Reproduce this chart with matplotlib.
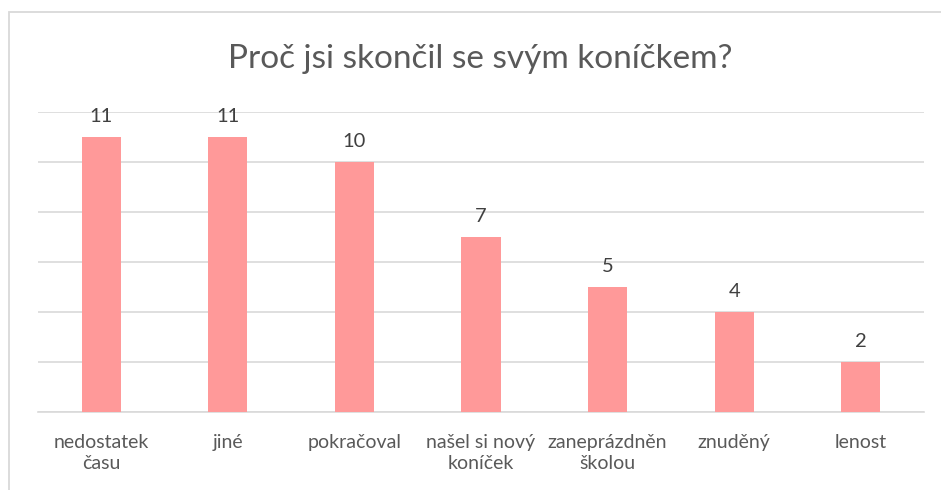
import matplotlib
matplotlib.use("Agg")
import matplotlib.pyplot as plt
from matplotlib.patches import Rectangle

categories = ["nedostatek\nčasu", "jiné", "pokračoval", "našel si nový\nkoníček",
              "zaneprázdněn\nškolou", "znuděný", "lenost"]
values = [11, 11, 10, 7, 5, 4, 2]
title = "Proč jsi skončil se svým koníčkem?"

plt.rcParams['font.family'] = ['Lato', 'DejaVu Sans']
W, H = 941, 490
fig = plt.figure(figsize=(W/100, H/100), dpi=100)

# outer chart border
fig.patches.append(Rectangle((9/W, -0.1), 1.2, (H-12)/H + 0.1, transform=fig.transFigure,
                             fill=False, edgecolor="#D9D9D9", linewidth=1.3))

ax = fig.add_axes([38/W, 78/H, (924-38)/W, 300/H])
x = list(range(len(categories)))
bars = ax.bar(x, values, width=0.31, color="#FF9999", zorder=3)
ax.set_xlim(-0.5, len(categories)-0.5)
ax.set_ylim(0, 12)
ax.set_yticks(range(0, 13, 2))
ax.yaxis.grid(True, color="#D9D9D9", linewidth=1.2, zorder=0)
ax.tick_params(axis='y', left=False, labelleft=False)
ax.tick_params(axis='x', bottom=False, pad=12)
ax.set_xticks(x)
ax.set_xticklabels(categories, fontsize=14, color="#595959", linespacing=1.35, va='top')
for s in ["top", "right", "left"]:
    ax.spines[s].set_visible(False)
ax.spines["bottom"].set_color("#D9D9D9")
ax.spines["bottom"].set_linewidth(1.2)

for xi, v in zip(x, values):
    ax.annotate(str(v), (xi, v), xytext=(0, 9), textcoords="offset points",
                ha="center", va="bottom", fontsize=14.5, color="#404040")

fig.text(480/W, 1 - 59/H, title, ha="center", va="center", fontsize=24, color="#595959")

fig.savefig("out.png", dpi=100)
